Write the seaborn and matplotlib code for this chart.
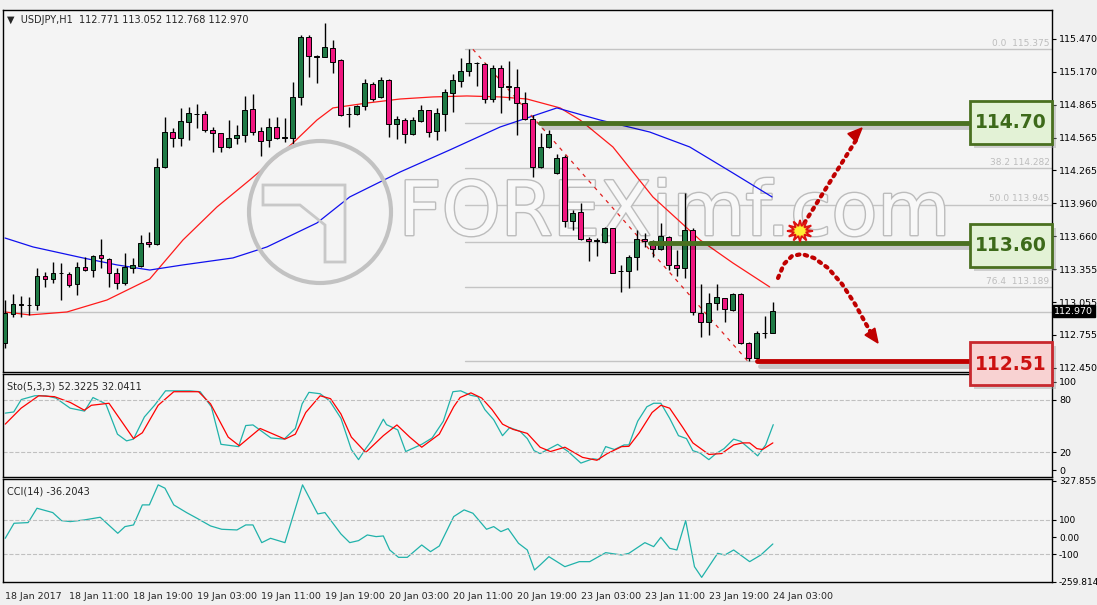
import numpy as np
import pandas as pd
import seaborn as sns
import matplotlib.pyplot as plt
import matplotlib.patheffects as pe
from matplotlib.patches import Rectangle, Ellipse, Polygon

sns.set_style("white")
plt.rcParams['font.family'] = ['DejaVu Sans']

# ---- data (USDJPY H1) ----
opens = [112.676, 112.945, 113.031, 113.028, 113.028, 113.294, 113.264, 113.319, 113.310, 113.218,
         113.374, 113.349, 113.484, 113.453, 113.325, 113.227, 113.371, 113.389, 113.603, 113.585,
         114.292, 114.613, 114.558, 114.711, 114.781, 114.778, 114.635, 114.604, 114.482, 114.558,
         114.589, 114.824, 114.625, 114.543, 114.665, 114.564, 114.564, 114.934, 115.485, 115.308,
         115.308, 115.390, 115.274, 114.781, 114.781, 114.855, 115.054, 114.934, 115.094, 114.687,
         114.726, 114.595, 114.720, 114.818, 114.625, 114.778, 114.971, 115.088, 115.176, 115.247,
         115.241, 114.916, 115.201, 115.032, 115.032, 114.879, 114.733, 114.292, 114.475, 114.237,
         114.384, 113.799, 113.879, 113.634, 113.619, 113.610, 113.732, 113.340, 113.343, 113.466,
         113.634, 113.619, 113.539, 113.655, 113.395, 113.365, 113.717, 112.958, 112.875, 113.043,
         113.089, 112.982, 113.126, 112.676, 112.539, 112.771, 112.771]
highs = [113.074, 113.129, 113.111, 113.105, 113.365, 113.334, 113.426, 113.411, 113.334, 113.426,
         113.472, 113.487, 113.634, 113.463, 113.365, 113.502, 113.463, 113.671, 113.695, 114.375,
         114.751, 114.650, 114.834, 114.843, 114.873, 114.809, 114.665, 114.604, 114.726, 114.681,
         114.950, 114.965, 114.665, 114.748, 114.751, 114.742, 115.078, 115.507, 115.507, 115.323,
         115.614, 115.461, 115.283, 114.849, 114.864, 115.100, 115.078, 115.118, 115.100, 114.763,
         114.742, 114.751, 114.864, 114.818, 114.834, 115.008, 115.149, 115.293, 115.375, 115.262,
         115.247, 115.231, 115.231, 115.268, 115.192, 114.987, 114.772, 114.604, 114.635, 114.414,
         114.405, 113.900, 113.961, 113.649, 113.640, 113.747, 113.738, 113.395, 113.487, 113.717,
         113.686, 113.622, 113.778, 113.658, 113.533, 114.059, 113.738, 113.218, 113.141, 113.218,
         113.095, 113.135, 113.135, 112.685, 112.792, 112.927, 113.052]
lows = [112.630, 112.921, 112.915, 112.936, 112.982, 113.196, 113.227, 113.074, 113.196, 113.120,
        113.343, 113.288, 113.365, 113.190, 113.172, 113.212, 113.319, 113.380, 113.564, 113.579,
        114.290, 114.482, 114.488, 114.543, 114.650, 114.619, 114.430, 114.436, 114.466, 114.503,
        114.528, 114.589, 114.396, 114.482, 114.549, 114.528, 114.506, 114.864, 115.124, 115.063,
        115.300, 115.161, 114.763, 114.665, 114.772, 114.818, 114.901, 114.925, 114.573, 114.549,
        114.518, 114.589, 114.711, 114.567, 114.543, 114.628, 114.803, 115.026, 115.130, 115.039,
        114.886, 114.895, 114.788, 114.910, 114.589, 114.726, 114.200, 114.283, 114.466, 114.230,
        113.747, 113.717, 113.625, 113.432, 113.478, 113.594, 113.320, 113.151, 113.181, 113.349,
        113.564, 113.466, 113.533, 113.349, 113.294, 113.273, 112.936, 112.737, 112.753, 112.982,
        112.875, 112.976, 112.670, 112.517, 112.530, 112.728, 112.768]
closes = [112.952, 113.037, 113.034, 113.028, 113.294, 113.264, 113.319, 113.319, 113.212, 113.374,
          113.349, 113.481, 113.463, 113.325, 113.227, 113.380, 113.392, 113.600, 113.585, 114.292,
          114.613, 114.558, 114.714, 114.788, 114.781, 114.635, 114.604, 114.482, 114.558, 114.589,
          114.818, 114.619, 114.537, 114.665, 114.558, 114.564, 114.934, 115.485, 115.317, 115.308,
          115.400, 115.262, 114.772, 114.781, 114.855, 115.063, 114.919, 115.094, 114.687, 114.736,
          114.595, 114.726, 114.818, 114.619, 114.788, 114.980, 115.094, 115.176, 115.253, 115.247,
          114.916, 115.201, 115.026, 115.032, 114.879, 114.736, 114.292, 114.475, 114.595, 114.375,
          113.799, 113.876, 113.631, 113.616, 113.619, 113.732, 113.325, 113.340, 113.466, 113.634,
          113.619, 113.539, 113.662, 113.395, 113.365, 113.717, 112.961, 112.875, 113.043, 113.098,
          112.988, 113.129, 112.676, 112.539, 112.774, 112.768, 112.970]

# moving averages (bar index, price)
ma_red_x = [0, 3.1, 7.75, 12.75, 18.1, 22.25, 26.5, 30.6, 36, 39, 41, 45.25, 49.4, 53.5, 57.75,
            61.9, 65.25, 69.4, 71.9, 76, 81, 86.9, 91, 95.6]
ma_red_y = [112.964, 112.937, 112.964, 113.074, 113.267, 113.625, 113.928, 114.176, 114.515, 114.726,
            114.837, 114.882, 114.919, 114.938, 114.947, 114.938, 114.919, 114.837, 114.726, 114.479,
            114.020, 113.625, 113.414, 113.194]
ma_blue_x = [0, 3.5, 9.75, 14, 18.1, 22.25, 28.5, 32.75, 39, 43.1, 49.4, 55.6, 61.9, 69, 74.4,
             80.6, 85.6, 91, 95.9]
ma_blue_y = [113.643, 113.561, 113.460, 113.396, 113.349, 113.396, 113.460, 113.561, 113.781, 114.020,
             114.249, 114.451, 114.662, 114.837, 114.726, 114.616, 114.479, 114.240, 114.020]

# stochastic (5,3,3)
sto_k_x = [0.03, 1.09, 2.04, 3.72, 5.1, 6.36, 8.15, 9.95, 11.0, 12.6, 14.06, 15.2, 16.06, 17.43, 18.7,
           20.07, 21.3, 23.1, 24.4, 25.8, 27.0, 29.2, 30.1, 31.0, 33.25, 34.9, 36.3, 37.15, 38.0, 39.4,
           40.6, 42.0, 43.3, 44.2, 45.1, 45.9, 47.3, 47.7, 49.1, 50.1, 52.1, 53.4, 54.8, 56.0, 56.98,
           58.2, 59.1, 60.0, 61.1, 62.2, 63.1, 64.4, 65.3, 66.15, 66.9, 69.1, 70.4, 72.0, 73.5, 74.3,
           75.1, 76.2, 77.4, 78.0, 79.1, 80.25, 81.1, 82.0, 83.1, 84.2, 85.2, 86.0, 86.9, 88.0, 88.9,
           89.9, 91.1, 92.0, 93.2, 94.1, 95.1, 96.05]
sto_k_y = [64.6, 65.9, 80.0, 84.3, 84.3, 81.7, 70.2, 66.9, 82.3, 75.1, 40.7, 33.1, 35.1, 60.3, 73.5,
           89.9, 89.9, 89.9, 88.9, 71.8, 29.2, 26.6, 50.5, 51.2, 36.4, 35.1, 47.2, 75.1, 88.2, 86.6,
           78.4, 58.7, 23.3, 11.8, 24.3, 34.1, 57.7, 51.5, 45.6, 21.0, 29.2, 36.4, 55.4, 88.9, 89.9,
           84.9, 83.3, 68.5, 57.1, 39.0, 48.2, 43.9, 35.7, 22.0, 18.7, 29.2, 21.0, 7.9, 12.8, 11.8,
           26.6, 23.3, 28.5, 28.5, 55.4, 71.8, 75.8, 75.8, 58.7, 39.0, 35.7, 22.0, 19.3, 11.8, 18.7,
           24.3, 35.1, 32.5, 23.3, 16.1, 28.5, 51.5]
sto_d_x = [0.03, 2.01, 4.21, 6.18, 8.16, 9.92, 10.8, 13.0, 16.07, 17.17, 19.15, 21.1, 24.2, 25.7, 27.9,
           29.3, 31.9, 35.0, 36.3, 37.6, 39.4, 40.7, 42.0, 43.3, 45.1, 47.3, 49.0, 50.6, 52.1, 54.3,
           56.1, 56.9, 58.25, 59.6, 60.9, 62.2, 63.5, 65.3, 66.9, 68.2, 70.0, 72.2, 74.0, 75.3, 77.1,
           78.0, 79.3, 80.9, 82.0, 83.1, 84.7, 86.0, 88.0, 89.6, 91.1, 92.2, 93.1, 94.0, 94.7, 96.0]
sto_d_y = [52.1, 70.2, 84.3, 83.3, 76.7, 67.9, 73.5, 75.8, 35.7, 42.3, 73.5, 88.9, 88.9, 75.1, 37.4,
           27.5, 47.2, 35.1, 40.7, 65.3, 84.3, 81.0, 63.6, 37.4, 20.0, 39.0, 51.2, 37.4, 25.9, 40.7,
           71.8, 82.3, 87.6, 81.7, 68.5, 52.1, 46.2, 41.6, 25.9, 21.0, 25.9, 14.4, 11.1, 18.7, 26.6,
           26.9, 42.3, 65.3, 73.5, 70.2, 48.9, 30.8, 17.7, 18.7, 28.5, 30.8, 30.8, 24.3, 23.3, 30.8]

# CCI(14)
cci_x = [0.03, 1.13, 2.89, 4.0, 5.97, 7.06, 8.16, 9.92, 11.9, 14.1, 15.0, 16.07, 17.17, 18.05, 19.15,
         20.0, 21.1, 22.7, 24.0, 25.7, 27.1, 29.0, 30.1, 31.0, 32.1, 33.2, 35.0, 37.2, 39.1, 40.0,
         42.0, 43.1, 44.2, 45.3, 46.4, 47.3, 48.1, 49.2, 50.3, 52.1, 53.2, 54.3, 56.1, 57.4, 58.5,
         60.2, 61.1, 62.0, 62.9, 64.2, 65.3, 66.2, 66.9, 68.0, 70.0, 71.8, 73.1, 75.1, 77.1, 78.0,
         80.0, 81.1, 82.0, 83.1, 84.0, 85.1, 86.2, 87.1, 89.1, 90.0, 91.1, 93.1, 94.5, 96.0]
cci_y = [-6.8, 80.6, 84.5, 168, 142.7, 96.1, 90.3, 100, 115.5, 22.3, 61.2, 70.9, 187.4, 187.4, 303.9,
         284.5, 187.4, 142.7, 109.7, 65.0, 45.6, 41.7, 70.9, 70.9, -32.1, -6.8, -32.1, 303.9, 135, 142.7,
         18.4, -32.1, -20.4, 12.6, 2.9, 6.8, -74.8, -117.5, -117.5, -45.7, -84.5, -51.5, 119.4, 158.3, 138.8,
         45.6, 61.2, 32.0, 49.5, -35.9, -74.8, -191.3, -162.2, -113.6, -171.9, -142.7, -142.7, -90.3, -103.9, -94.2,
         -32.1, -55.4, -1.0, -65.1, -74.8, 96.1, -171.9, -234, -94.2, -103.9, -74.8, -142.7, -103.9, -39.8]

fib_levels = [115.375, 114.699, 114.282, 113.945, 113.604, 113.189, 112.968, 112.510]
fib_labels = {115.375: "0.0  115.375", 114.282: "38.2 114.282", 113.945: "50.0 113.945", 113.189: "76.4  113.189"}
price_ticks = [115.470, 115.170, 114.865, 114.565, 114.265, 113.960, 113.660, 113.355, 113.055, 112.755, 112.450]
time_labels = ["18 Jan 2017", "18 Jan 11:00", "18 Jan 19:00", "19 Jan 03:00", "19 Jan 11:00", "19 Jan 19:00",
               "20 Jan 03:00", "20 Jan 11:00", "20 Jan 19:00", "23 Jan 03:00", "23 Jan 11:00", "23 Jan 19:00",
               "24 Jan 03:00"]
levels = ["114.70", "113.60", "112.51"]

W, H = 1097, 605
fig = plt.figure(figsize=(W / 100, H / 100), dpi=100, facecolor='#f0f0f0')
BG = '#f4f4f4'


def px_axes(x0, y0, x1, y1):
    return fig.add_axes([x0 / W, 1 - y1 / H, (x1 - x0) / W, (y1 - y0) / H], facecolor=BG)


def fpt(x, y):
    return (x / W, 1 - y / H)


ax = px_axes(3, 10, 1052, 372)
ax_s = px_axes(3, 374, 1052, 477)
ax_c = px_axes(3, 479, 1052, 582)
XL = (-0.25, 130.9)

df = pd.DataFrame({'o': opens, 'h': highs, 'l': lows, 'c': closes})
df['i'] = np.arange(len(df))
up = df['c'] >= df['o']
green, pink = '#1f7a45', '#f0167f'

# fib grey lines
for lv in fib_levels:
    x0 = 57.5 if lv != 112.968 else XL[0]
    ax.plot([x0, XL[1]], [lv, lv], color='#c4c4c4', lw=1, zorder=1)
    if lv in fib_labels:
        ax.text(130.6, lv + 0.015, fib_labels[lv], ha='right', va='bottom', fontsize=6.5, color='#bdbdbd')

# watermark
ax.text(0.64, 0.435, "FOREXimf.com", transform=ax.transAxes, ha='center', va='center',
        fontsize=54, color='#f8f8f8', zorder=2,
        path_effects=[pe.withStroke(linewidth=2, foreground='#bcbcbc')])
fig.add_artist(Ellipse(fpt(320, 212), 142 / W, 142 / H, transform=fig.transFigure, fill=False,
                       ec='#c2c2c2', lw=3, zorder=2))
fig.add_artist(Polygon([fpt(263, 185), fpt(345, 185), fpt(345, 262), fpt(325, 262), fpt(325, 225),
                        fpt(300, 205), fpt(263, 205)], closed=True, transform=fig.transFigure,
                       fill=False, ec='#c8c8c8', lw=2, zorder=2))

# MA lines
sns.lineplot(x=ma_red_x, y=ma_red_y, ax=ax, color='#ff1a1a', lw=0.9, zorder=3)
sns.lineplot(x=ma_blue_x, y=ma_blue_y, ax=ax, color='#1010ee', lw=0.9, zorder=3)

# fib diagonal
ax.plot([58.5, 92.9], [115.375, 112.51], color='#e02020', lw=0.9, ls=(0, (3, 4)), zorder=3)

# candles
ax.vlines(df['i'], df['l'], df['h'], color='black', lw=1, zorder=4)
body = (df['c'] - df['o']).abs().clip(lower=0.004)
base = df[['o', 'c']].min(axis=1)
cols = np.where(up, green, pink)
cols = np.where((df['c'] - df['o']).abs() < 0.004, 'black', cols)
ax.bar(df['i'], body, bottom=base, width=0.62, color=cols, edgecolor='black', lw=0.7, zorder=5)

# level lines
shadow = [pe.SimpleLineShadow(offset=(2, -3), alpha=0.18), pe.Normal()]
ax.plot([66.9, 121], [114.70, 114.70], color='#4a7020', lw=3.5, zorder=6, path_effects=shadow)
ax.plot([80.6, 121], [113.60, 113.60], color='#4a7020', lw=3.5, zorder=6, path_effects=shadow)
ax.plot([94, 121], [112.51, 112.51], color='#c00000', lw=3.5, zorder=6, path_effects=shadow)

ax.set_xlim(*XL)
ax.set_ylim(112.413, 115.736)
ax.yaxis.tick_right()
ax.set_yticks(price_ticks)
ax.set_yticklabels([f"{t:.3f}" for t in price_ticks], fontsize=6.8)
ax.set_xticks([])
ax.text(1.002, 112.970, "112.970", transform=ax.get_yaxis_transform(), fontsize=6.8, color='white',
        va='center', ha='left', bbox=dict(boxstyle='square,pad=0.15', fc='black', ec='black'), zorder=10)
ax.text(0.004, 0.985, "\u25BC  USDJPY,H1  112.771 113.052 112.768 112.970", transform=ax.transAxes,
        fontsize=7, va='top', ha='left')

# stochastic
sns.lineplot(x=sto_k_x, y=sto_k_y, ax=ax_s, color='#20b2aa', lw=0.9)
sns.lineplot(x=sto_d_x, y=sto_d_y, ax=ax_s, color='#ff0000', lw=0.9)
for lv in (80, 20):
    ax_s.axhline(lv, color='#c0c0c0', ls='--', lw=0.8)
ax_s.set_xlim(*XL)
ax_s.set_ylim(-7.9, 109)
ax_s.yaxis.tick_right()
ax_s.set_yticks([100, 80, 20, 0])
ax_s.set_yticklabels(['100', '80', '20', '0'], fontsize=6.8)
ax_s.set_xticks([])
ax_s.text(0.004, 0.93, "Sto(5,3,3) 52.3225 32.0411", transform=ax_s.transAxes, fontsize=7, va='top')

# CCI
sns.lineplot(x=cci_x, y=cci_y, ax=ax_c, color='#20b2aa', lw=0.9)
for lv in (100, -100):
    ax_c.axhline(lv, color='#c0c0c0', ls='--', lw=0.8)
ax_c.set_xlim(*XL)
ax_c.set_ylim(-261, 338)
ax_c.yaxis.tick_right()
ax_c.set_yticks([327.8553, 100, 0, -100, -259.8142])
ax_c.set_yticklabels(['327.8553', '100', '0.00', '-100', '-259.8142'], fontsize=6.5)
ax_c.text(0.004, 0.93, "CCI(14) -36.2043", transform=ax_c.transAxes, fontsize=7, va='top')
ax_c.set_xticks(np.arange(len(time_labels)) * 8)
ax_c.set_xticklabels(time_labels, fontsize=6.8, ha='left')
ax_c.tick_params(axis='x', length=4, pad=3)

for a in (ax, ax_s, ax_c):
    for s in a.spines.values():
        s.set_color('black')
        s.set_linewidth(1)
    a.tick_params(axis='y', length=3, pad=2, colors='black')
    a.set_xlabel('')
    a.set_ylabel('')
    if a.get_legend():
        a.get_legend().remove()

# level boxes (figure pixels)
boxes = [(101, '#e3f2d6', '#4a7020', '#3d6a1a'), (224, '#e3f2d6', '#4a7020', '#3d6a1a'),
         (342, '#f8d2d2', '#c8282e', '#cc1111')]
for lab, (ytop, fc, ec, tc) in zip(levels, boxes):
    x0, y1 = fpt(970, ytop + 43)
    fig.add_artist(Rectangle((x0 + 4 / W, y1 - 4 / H), 82 / W, 43 / H, transform=fig.transFigure,
                             fc='#999999', ec='none', alpha=0.4, zorder=20))
    fig.add_artist(Rectangle((x0, y1), 82 / W, 43 / H, transform=fig.transFigure,
                             fc=fc, ec=ec, lw=2, zorder=21))
    fig.text(1011 / W, 1 - (ytop + 22) / H, lab, ha='center', va='center', fontsize=13.5,
             fontweight='bold', color=tc, zorder=22)

# dotted arrows
red_dot = dict(color='#c00000', lw=3, ls=(0, (0.6, 1.3)), dash_capstyle='round',
               transform=fig.transFigure, zorder=15)
x = np.array([800, 858]); y = np.array([230, 137])
fig.add_artist(plt.Line2D(x / W, 1 - y / H, **red_dot))
cx = np.array([778, 784, 792, 802, 814, 828, 842, 855, 866, 874])
cy = np.array([278, 264, 256, 254, 258, 268, 284, 304, 324, 338])
fig.add_artist(plt.Line2D(cx / W, 1 - cy / H, **red_dot))
for tip, tail in [((862, 128), (848, 142)), ((878, 343), (866, 326))]:
    d = np.array(tip) - np.array(tail)
    d = d / np.hypot(*d)
    n = np.array([-d[1], d[0]])
    pts = [tip, np.array(tip) - 14 * d + 6 * n, np.array(tip) - 14 * d - 6 * n]
    fig.add_artist(Polygon([fpt(*p) for p in pts], closed=True, transform=fig.transFigure,
                           fc='#c00000', ec='#c00000', zorder=16))

# explosion star
ang = np.linspace(0, 2 * np.pi, 25)[:-1]
rad = np.where(np.arange(24) % 2 == 0, 13, 6)
sx, sy = 800 + rad * np.cos(ang), 231 + rad * np.sin(ang) * 0.85
fig.add_artist(Polygon(np.c_[sx / W, 1 - sy / H], closed=True, transform=fig.transFigure,
                       fc='#ffee33', ec='#dd1111', lw=1.3, zorder=17))

fig.savefig('out.png', dpi=100, facecolor=fig.get_facecolor())
